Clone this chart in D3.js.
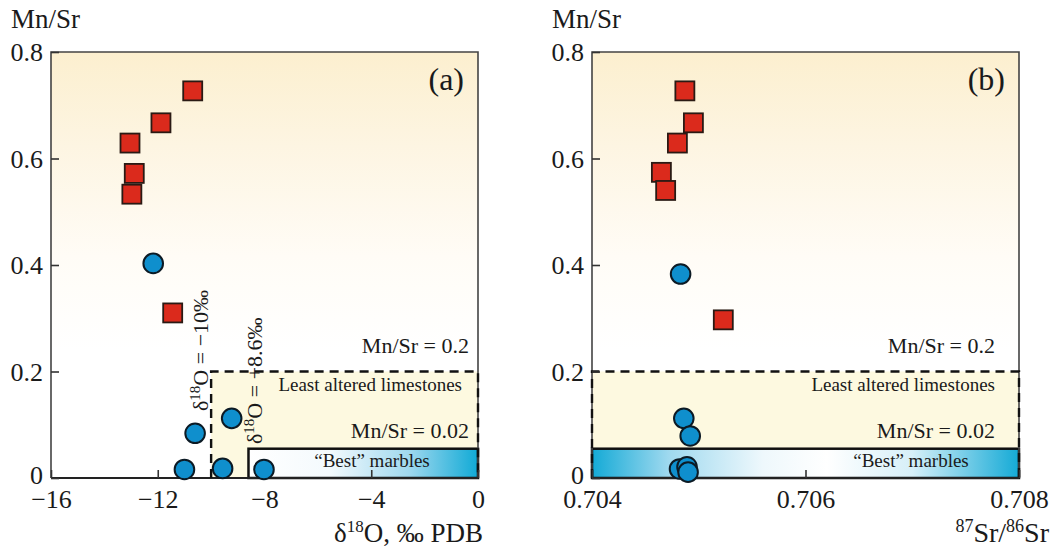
<!DOCTYPE html>
<html><head><meta charset="utf-8">
<script src="https://cdn.jsdelivr.net/npm/d3@7"></script>
<style>
html,body{margin:0;padding:0;background:#fff;}
svg{display:block;}
</style></head>
<body>
<svg id="chart" width="1051" height="548"></svg>
<script>
// ---------- data ----------
const yTicks = [0, 0.2, 0.4, 0.6, 0.8];
const xTicksA = [-16, -12, -8, -4, 0];
const xTicksB = [0.704, 0.706, 0.708];

const aSquareX = [-10.69, -11.88, -13.04, -12.88, -12.97, -11.44];
const aSquareY = [0.727, 0.667, 0.629, 0.572, 0.533, 0.310];
const aCircleX = [-12.17, -10.60, -9.23, -11.00, -9.57, -8.02];
const aCircleY = [0.403, 0.084, 0.112, 0.016, 0.018, 0.016];

const bSquareX = [0.70487, 0.70495, 0.70480, 0.70465, 0.70469, 0.70523];
const bSquareY = [0.727, 0.667, 0.629, 0.574, 0.540, 0.297];
const bCircleX = [0.70483, 0.70486, 0.70492, 0.70482, 0.70489, 0.70490];
const bCircleY = [0.383, 0.112, 0.079, 0.017, 0.021, 0.011];

const mnSrLimit = 0.2;     // Mn/Sr = 0.2 line
const bestTop = 0.055;     // top of "Best" marbles box
const d18OLimit1 = -10;    // δ18O = −10‰
const d18OLimit2 = -8.6;   // δ18O = 8.6‰

const FONT = "Liberation Serif";
const svg = d3.select("#chart");
const defs = svg.append("defs");

const bg = defs.append("linearGradient").attr("id","bgGrad").attr("x1",0).attr("y1",0).attr("x2",0).attr("y2",1);
bg.append("stop").attr("offset","0%").attr("stop-color","#fcefcf");
bg.append("stop").attr("offset","22%").attr("stop-color","#fdf5e2");
bg.append("stop").attr("offset","48%").attr("stop-color","#fffcf6");
bg.append("stop").attr("offset","70%").attr("stop-color","#ffffff");
bg.append("stop").attr("offset","100%").attr("stop-color","#ffffff");

const gA = defs.append("linearGradient").attr("id","bestA").attr("x1",0).attr("y1",0).attr("x2",1).attr("y2",0);
gA.append("stop").attr("offset","0%").attr("stop-color","#ffffff");
gA.append("stop").attr("offset","35%").attr("stop-color","#f4fafd");
gA.append("stop").attr("offset","70%").attr("stop-color","#9fd8ee");
gA.append("stop").attr("offset","100%").attr("stop-color","#10aad6");

const gB = defs.append("linearGradient").attr("id","bestB").attr("x1",0).attr("y1",0).attr("x2",1).attr("y2",0);
gB.append("stop").attr("offset","0%").attr("stop-color","#14aad6");
gB.append("stop").attr("offset","18%").attr("stop-color","#9fd9ef");
gB.append("stop").attr("offset","40%").attr("stop-color","#eef8fc");
gB.append("stop").attr("offset","55%").attr("stop-color","#ffffff");
gB.append("stop").attr("offset","75%").attr("stop-color","#d6eff8");
gB.append("stop").attr("offset","100%").attr("stop-color","#14aad6");

function txt(g) { return g.append("text").attr("font-family", FONT).attr("fill","#1a1a1a"); }

function drawPanel(opt) {
  const x = d3.scaleLinear().domain(opt.xDomain).range([opt.left, opt.right]);
  const y = d3.scaleLinear().domain([0, 0.8]).range([478, 52]);
  const g = svg.append("g");

  g.append("rect").attr("x", x.range()[0]).attr("y", y(0.8))
    .attr("width", x.range()[1]-x.range()[0]).attr("height", y(0)-y(0.8))
    .attr("fill","url(#bgGrad)");

  g.append("rect").attr("x", x(opt.laX0)).attr("y", y(mnSrLimit))
    .attr("width", x(opt.xDomain[1]) - x(opt.laX0)).attr("height", y(0)-y(mnSrLimit))
    .attr("fill","#fdf9e0");

  g.append("rect").attr("x", x(opt.bestX0)).attr("y", y(bestTop))
    .attr("width", x(opt.xDomain[1]) - x(opt.bestX0)).attr("height", y(0)-y(bestTop))
    .attr("fill", opt.bestFill).attr("stroke","#111").attr("stroke-width",2.5);

  g.append("path")
    .attr("d", `M${x.range()[0]},${y(0)}V${y(0.8)}H${x.range()[1]}V${y(0)}`)
    .attr("fill","none").attr("stroke","#444").attr("stroke-width",1.6);
  g.append("line").attr("x1", x.range()[0]).attr("x2", x.range()[1]).attr("y1", y(0)).attr("y2", y(0))
    .attr("stroke","#222").attr("stroke-width",2.2);

  g.append("path")
    .attr("d", `M${x(opt.laX0)},${y(0)}V${y(mnSrLimit)}H${x(opt.xDomain[1])}V${y(0)}`)
    .attr("fill","none").attr("stroke","#111").attr("stroke-width",2.4).attr("stroke-dasharray","9,6");

  const yAxis = d3.axisLeft(y).tickValues(yTicks).tickSizeInner(-8).tickSizeOuter(0).tickPadding(8)
    .tickFormat(d => d === 0 ? "0" : d3.format(".1f")(d));
  const ya = g.append("g").attr("transform", `translate(${x.range()[0]},0)`).call(yAxis);
  ya.attr("font-family", FONT);
  ya.select(".domain").remove();
  ya.selectAll(".tick line").attr("stroke","#333").attr("stroke-width",1.6);
  ya.selectAll(".tick text").attr("font-family", FONT).attr("font-size",26).attr("fill","#1a1a1a")
    .attr("dy", d => d === 0 ? "0.2em" : "0.34em");

  const xAxis = d3.axisBottom(x).tickValues(opt.xTicks).tickSizeInner(-8).tickSizeOuter(0).tickPadding(12)
    .tickFormat(opt.xFormat);
  const xa = g.append("g").attr("transform", `translate(0,${y(0)})`).call(xAxis);
  xa.attr("font-family", FONT);
  xa.select(".domain").remove();
  xa.selectAll(".tick line").attr("stroke","#333").attr("stroke-width",1.6);
  xa.selectAll(".tick text").attr("font-family", FONT).attr("font-size",26).attr("fill","#1a1a1a").attr("dy","0.68em");

  txt(g).attr("x", x.range()[0]-40).attr("y", 28).attr("font-size",27).text("Mn/Sr");

  txt(g).attr("x", x.range()[1]-14).attr("y", 90).attr("text-anchor","end")
    .attr("font-size",32).text(opt.label);

  const rx = x.range()[1] - opt.labelPad;
  txt(g).attr("x", rx).attr("y", 353).attr("text-anchor","end").attr("font-size",22).text("Mn/Sr = 0.2");
  txt(g).attr("x", rx - opt.laPad).attr("y", 391).attr("text-anchor","end").attr("font-size",19).text("Least altered limestones");
  txt(g).attr("x", rx).attr("y", 438).attr("text-anchor","end").attr("font-size",22).text("Mn/Sr = 0.02");
  txt(g).attr("x", opt.bestLabelX).attr("y", 467).attr("text-anchor","middle").attr("font-size",19).text("\u201CBest\u201D marbles");

  const sq = 19;
  const squares = opt.sqX.map((v,i) => ({x:v, y:opt.sqY[i]}));
  const circles = opt.ciX.map((v,i) => ({x:v, y:opt.ciY[i]}));
  g.selectAll("rect.sq").data(squares).enter().append("rect").attr("class","sq")
    .attr("x", d => x(d.x)-sq/2).attr("y", d => y(d.y)-sq/2).attr("width",sq).attr("height",sq)
    .attr("fill","#db2a1c").attr("stroke","#2a1a14").attr("stroke-width",1.8);
  g.selectAll("circle.ci").data(circles).enter().append("circle").attr("class","ci")
    .attr("cx", d => x(d.x)).attr("cy", d => y(d.y)).attr("r",9.8)
    .attr("fill","#0f8fcd").attr("stroke","#0c1a24").attr("stroke-width",2);

  return {x, y, g};
}

const A = drawPanel({
  xDomain: [-16, 0], left: 51, right: 478, xTicks: xTicksA,
  xFormat: d => d === 0 ? "0" : d3.format("d")(d),
  laX0: d18OLimit1, bestX0: d18OLimit2, bestFill: "url(#bestA)",
  label: "(a)", labelPad: 9, laPad: 7, bestLabelX: 372,
  sqX: aSquareX, sqY: aSquareY, ciX: aCircleX, ciY: aCircleY
});
function rotLabel(g, bx, by, value) {
  const t = txt(g).attr("transform", `translate(${bx},${by}) rotate(-90)`).attr("font-size",22);
  t.append("tspan").text("\u03B4");
  t.append("tspan").attr("font-size",15).attr("dy","-0.55em").text("18");
  t.append("tspan").attr("dy","0.38em").text("O = " + value + "\u2030");
}
rotLabel(A.g, 208, 411, "\u221210");
rotLabel(A.g, 262, 444, "+8.6");
{
  const t = txt(A.g).attr("x", 483).attr("y", 542).attr("text-anchor","end").attr("font-size",27);
  t.append("tspan").text("\u03B4");
  t.append("tspan").attr("font-size",17).attr("dy","-0.6em").text("18");
  t.append("tspan").attr("dy","0.39em").text("O, \u2030 PDB");
}

const B = drawPanel({
  xDomain: [0.704, 0.708], left: 592, right: 1019, xTicks: xTicksB,
  xFormat: d3.format(".3f"),
  laX0: 0.704, bestX0: 0.704, bestFill: "url(#bestB)",
  label: "(b)", labelPad: 24, laPad: 0, bestLabelX: 911,
  sqX: bSquareX, sqY: bSquareY, ciX: bCircleX, ciY: bCircleY
});
{
  const t = txt(B.g).attr("x", 1049).attr("y", 542).attr("text-anchor","end").attr("font-size",28);
  t.append("tspan").attr("font-size",18).attr("dy","-0.55em").text("87");
  t.append("tspan").attr("dy","0.35em").text("Sr/");
  t.append("tspan").attr("font-size",18).attr("dy","-0.55em").text("86");
  t.append("tspan").attr("dy","0.35em").text("Sr");
}
</script>
</body></html>
